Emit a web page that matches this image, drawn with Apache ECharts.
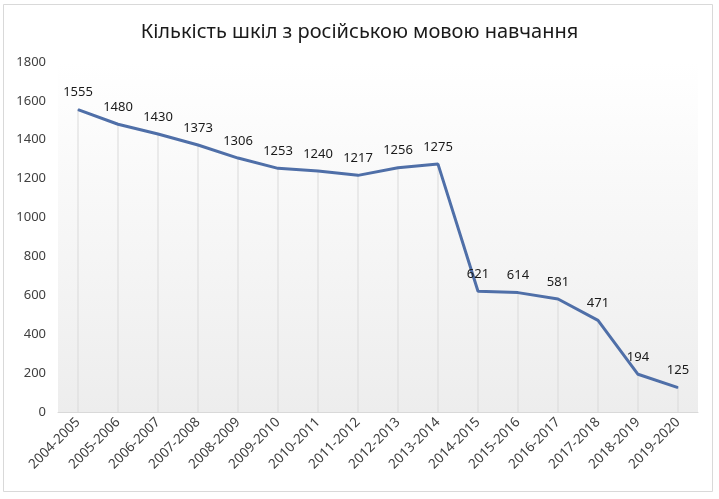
<!DOCTYPE html>
<html><head><meta charset="utf-8">
<script src="https://cdn.jsdelivr.net/npm/echarts@6/dist/echarts.min.js"></script>
<style>html,body{margin:0;padding:0;background:#fff}#c{width:719px;height:499px}</style>
</head><body><div id="c"></div>
<script>
const title = 'Кількість шкіл з російською мовою навчання';
const categories = ['2004-2005','2005-2006','2006-2007','2007-2008','2008-2009','2009-2010','2010-2011','2011-2012','2012-2013','2013-2014','2014-2015','2015-2016','2016-2017','2017-2018','2018-2019','2019-2020'];
const schools = [1555,1480,1430,1373,1306,1253,1240,1217,1256,1275,621,614,581,471,194,125];
const yTicks = {min:0, max:1800, interval:200};
const font = 'Noto Sans';
const chart = echarts.init(document.getElementById('c'));
chart.setOption({
  animation:false,
  backgroundColor:'#fff',
  title:{text:title,left:'center',top:17,textStyle:{fontFamily:font,fontSize:20,fontWeight:'normal',color:'#1a1a1a'}},
  graphic:[{type:'rect',shape:{x:3.5,y:4.5,width:709,height:487},style:{fill:'none',stroke:'#d9d9d9',lineWidth:1},z:-1}],
  grid:{left:58,right:21,top:62,bottom:87,show:true,borderWidth:0,
    backgroundColor:new echarts.graphic.LinearGradient(0,0,0,1,[{offset:0,color:'#ffffff'},{offset:1,color:'#ededed'}])},
  xAxis:{type:'category',data:categories,boundaryGap:true,
    axisLine:{lineStyle:{color:'#d9d9d9'}},axisTick:{show:false},
    axisLabel:{rotate:45,interval:0,fontFamily:font,fontSize:13.5,color:'#404040',margin:8}},
  yAxis:{type:'value',min:yTicks.min,max:yTicks.max,interval:yTicks.interval,
    splitLine:{show:false},axisLine:{show:false},axisTick:{show:false},
    axisLabel:{fontFamily:font,fontSize:13,color:'#404040',margin:12,formatter:v=>String(v)}},
  series:[
    {type:'bar',data:schools,barWidth:1,itemStyle:{color:'#d9d9d9'},silent:true,z:1},
    {type:'line',data:schools,symbol:'circle',symbolSize:1,showSymbol:true,z:3,
      itemStyle:{color:'#4f6fa8'},
      lineStyle:{color:'#4f6fa8',width:3},
      label:{show:true,position:'top',distance:10,fontFamily:font,fontSize:13,color:'#1a1a1a',formatter:p=>String(p.value)}}
  ]
});
</script></body></html>
